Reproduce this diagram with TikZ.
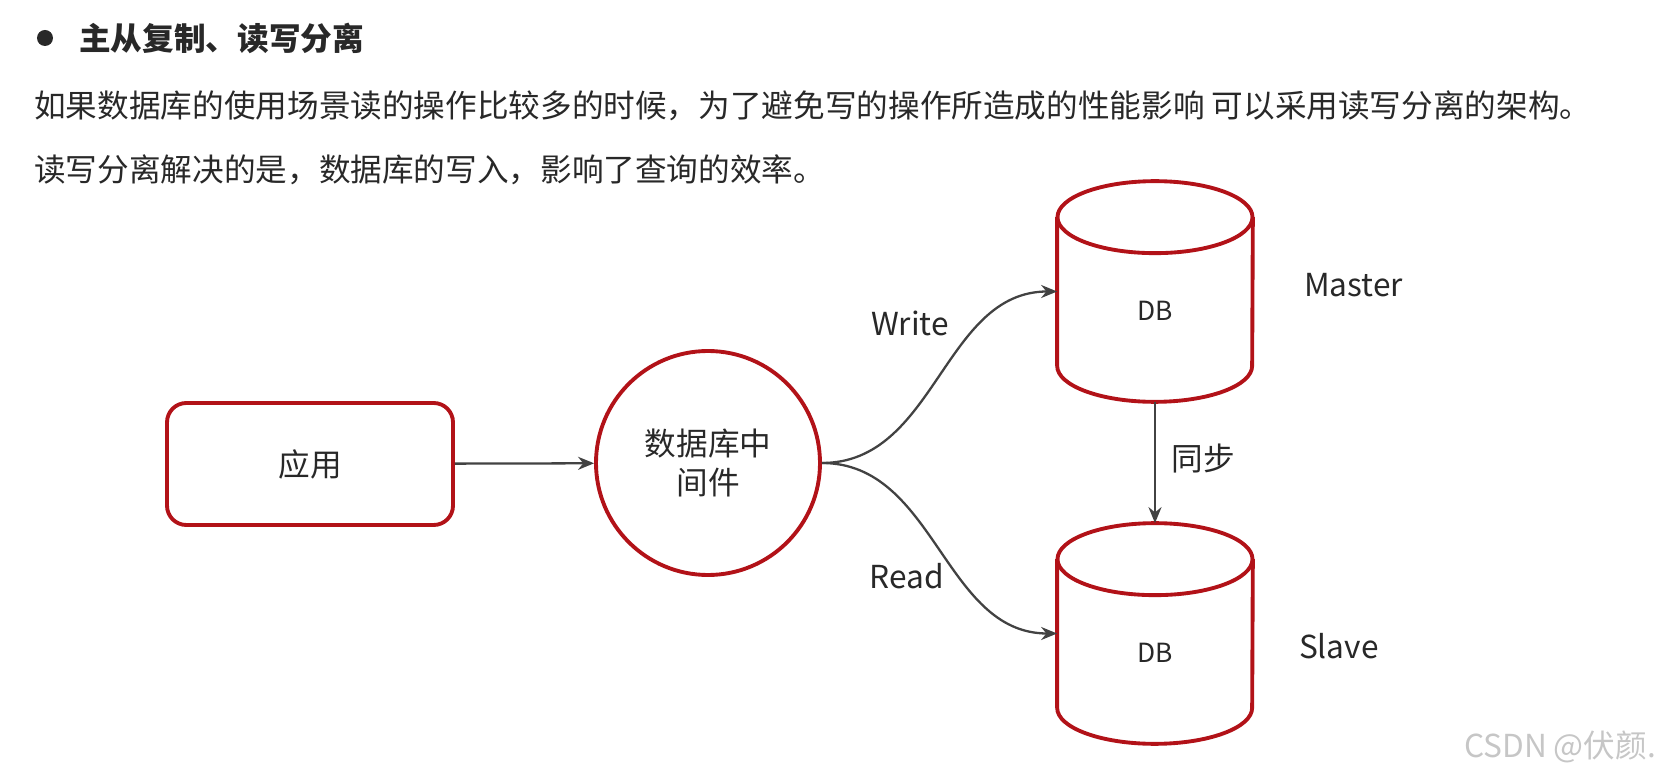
\documentclass[tikz,border=0pt]{standalone}
\usepackage{fontspec}
\setmainfont{Noto Sans CJK SC}
\usetikzlibrary{arrows.meta,calc,positioning}
\definecolor{dbred}{RGB}{178,18,24}
\definecolor{linegray}{RGB}{66,66,66}
\definecolor{textgray}{RGB}{40,40,40}
\newcommand{\drawdb}[1]{%
  \draw[dbedge] ($(#1.north west)+(0,-0.72)$) -- ($(#1.south west)+(0,0.72)$)
    arc[start angle=180, end angle=360, x radius=1.95cm, y radius=0.72cm]
    -- ($(#1.north east)+(0,-0.72)$);
  \draw[dbedge] ($(#1.north)+(0,-0.72)$) ellipse[x radius=1.95cm, y radius=0.72cm];
}
\tikzset{
  bodytext/.style={anchor=west, inner sep=0pt, font=\fontsize{18}{22}\selectfont, text=textgray},
  appbox/.style={draw=dbred, line width=2.2pt, rounded corners=11pt, minimum width=5.72cm, minimum height=2.44cm, font=\fontsize{18}{22}\selectfont, text=textgray},
  midcircle/.style={draw=dbred, line width=2.2pt, circle, minimum size=4.48cm, inner sep=0pt, align=center, font=\fontsize{18}{22}\selectfont, text=textgray},
  dbbox/.style={minimum width=3.9cm, minimum height=4.4cm, inner sep=0pt},
  dbedge/.style={draw=dbred, line width=2.2pt},
  dbtext/.style={font=\fontsize{15}{18}\selectfont, text=textgray},
  edgelabel/.style={font=\fontsize{18}{22}\selectfont, text=textgray},
  arrow/.style={-{Stealth[length=3.2mm, width=2.6mm]}, draw=linegray, line width=1.3pt}
}
\begin{document}
\begin{tikzpicture}
  \useasboundingbox (0,0) rectangle (33.24,-15.48);

  % heading and text
  \node[circle, fill=textgray, inner sep=0pt, minimum size=0.32cm] (bullet) at (0.9,-0.76) {};
  \node[bodytext] (title) at (1.58,-0.76) {\bfseries 主从复制、读写分离};
  \node[bodytext] (line1) at (0.68,-2.12) {如果数据库的使用场景读的操作比较多的时候，为了避免写的操作所造成的性能影响 可以采用读写分离的架构。};
  \node[bodytext] (line2) at (0.68,-3.40) {读写分离解决的是，数据库的写入，影响了查询的效率。};

  % diagram
  \node[appbox] (app) at (6.2,-9.28) {应用};
  \node[midcircle] (mw) at (14.16,-9.26) {数据库中\\间件};
  \node[dbbox] (master) at (23.1,-5.83) {};
  \node[dbbox] (slave) at (23.1,-12.67) {};
  \drawdb{master}
  \drawdb{slave}
  \node[dbtext] (masterdb) at ($(master.center)+(0,-0.38)$) {DB};
  \node[dbtext] (slavedb) at ($(slave.center)+(0,-0.38)$) {DB};
  \node[edgelabel, right=0.9cm of master, yshift=0.12cm] (masterlabel) {Master};
  \node[edgelabel, right=0.8cm of slave, yshift=-0.25cm] (slavelabel) {Slave};

  \draw[arrow] (app) -- (mw);
  \draw[arrow] (mw.east) to[out=0, in=180] (master.west);
  \draw[arrow] (mw.east) to[out=0, in=180] (slave.west);
  \draw[arrow] (master.south) -- (slave.north);

  \node[edgelabel] (writelabel) at (18.2,-6.46) {Write};
  \node[edgelabel] (readlabel) at (18.14,-11.52) {Read};
  \node[edgelabel] (synclabel) at (24.06,-9.18) {同步};

  \node[edgelabel, text=gray!45] (mark) at (31.2,-14.94) {CSDN @伏颜.};
\end{tikzpicture}
\end{document}
